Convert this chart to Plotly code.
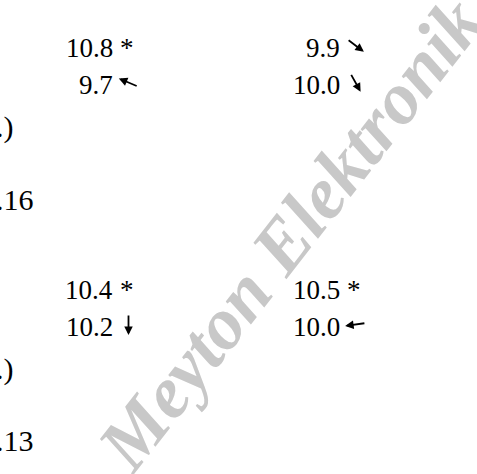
import math
import plotly.graph_objects as go

# ---- data ----
left_scores = ["10.8", "9.7", "10.4", "10.2"]
right_scores = ["9.9", "10.0", "10.5", "10.0"]
# "*" or direction of the shot arrow in degrees (0 = right, 90 = up)
left_marks = ["*", 157, "*", -90]
right_marks = [-37, -61, "*", -172]
side_labels = [".)", ".16", ".)", ".13"]
watermark = "Meyton Elektronik"

W, H = 477, 474
FONT = "Liberation Serif"
SZ = 27
SIDE_SZ = 30

fig = go.Figure()
fig.update_layout(
    width=W, height=H, margin=dict(l=0, r=0, t=0, b=0),
    paper_bgcolor="white", plot_bgcolor="white",
    xaxis=dict(range=[0, W], visible=False, fixedrange=True),
    yaxis=dict(range=[H, 0], visible=False, fixedrange=True),
    showlegend=False,
)

ann = []
# watermark (drawn first, behind)
ann.append(dict(x=290, y=234, xref="x", yref="y", text=watermark, showarrow=False,
                textangle=-52, font=dict(family=FONT, size=74, color="#c8c8c8",
                                         weight="bold", style="italic"),
                borderpad=0, borderwidth=0, xanchor="center", yanchor="middle"))

block_gap = 242
row_gap = 37
col_end = [113, 340]


def baseline(i):
    return 57 + (i // 2) * block_gap + (i % 2) * row_gap


def mid_from_baseline(b, size):
    return b - 0.3375 * size


for col, (scores, marks) in enumerate([(left_scores, left_marks), (right_scores, right_marks)]):
    xe = col_end[col]
    for i, (s, m) in enumerate(zip(scores, marks)):
        b = baseline(i)
        yc = mid_from_baseline(b, SZ)
        ann.append(dict(x=xe, y=yc, xref="x", yref="y", text=s, showarrow=False,
                        font=dict(family=FONT, size=SZ, color="black"),
                        borderpad=0, borderwidth=0, xanchor="right", yanchor="middle"))
        if m == "*":
            ann.append(dict(x=xe + 6.5, y=yc, xref="x", yref="y", text="*", showarrow=False,
                            font=dict(family=FONT, size=SZ, color="black"),
                            borderpad=0, borderwidth=0, xanchor="left", yanchor="middle"))
        else:
            ang = math.radians(m)
            L = 21
            cx, cy = xe + 15.5, b - 11.5
            dx, dy = math.cos(ang) * L / 2, -math.sin(ang) * L / 2
            hx, hy = cx + dx, cy + dy
            ann.append(dict(x=hx, y=hy, xref="x", yref="y", text="", showarrow=True,
                            ax=-2 * dx, ay=-2 * dy, axref="pixel", ayref="pixel",
                            arrowhead=2, arrowsize=0.95, arrowwidth=1.8,
                            arrowcolor="black", standoff=0, startstandoff=0))

side_base = [137, 210, 379, 451]
for lab, b in zip(side_labels, side_base):
    is_num = lab.startswith(".1")
    ann.append(dict(x=(-4 if is_num else 14) / W, y=mid_from_baseline(b, SIDE_SZ),
                    xref="paper", yref="y", text=lab, showarrow=False,
                    font=dict(family=FONT, size=SIDE_SZ, color="black"),
                    borderpad=0, borderwidth=0, xanchor="left" if is_num else "right",
                    yanchor="middle"))

fig.update_layout(annotations=ann)
fig.write_html("out.html", config={"displayModeBar": False, "staticPlot": True},
               post_script="document.body.style.margin='0';document.body.style.overflow='hidden';")
